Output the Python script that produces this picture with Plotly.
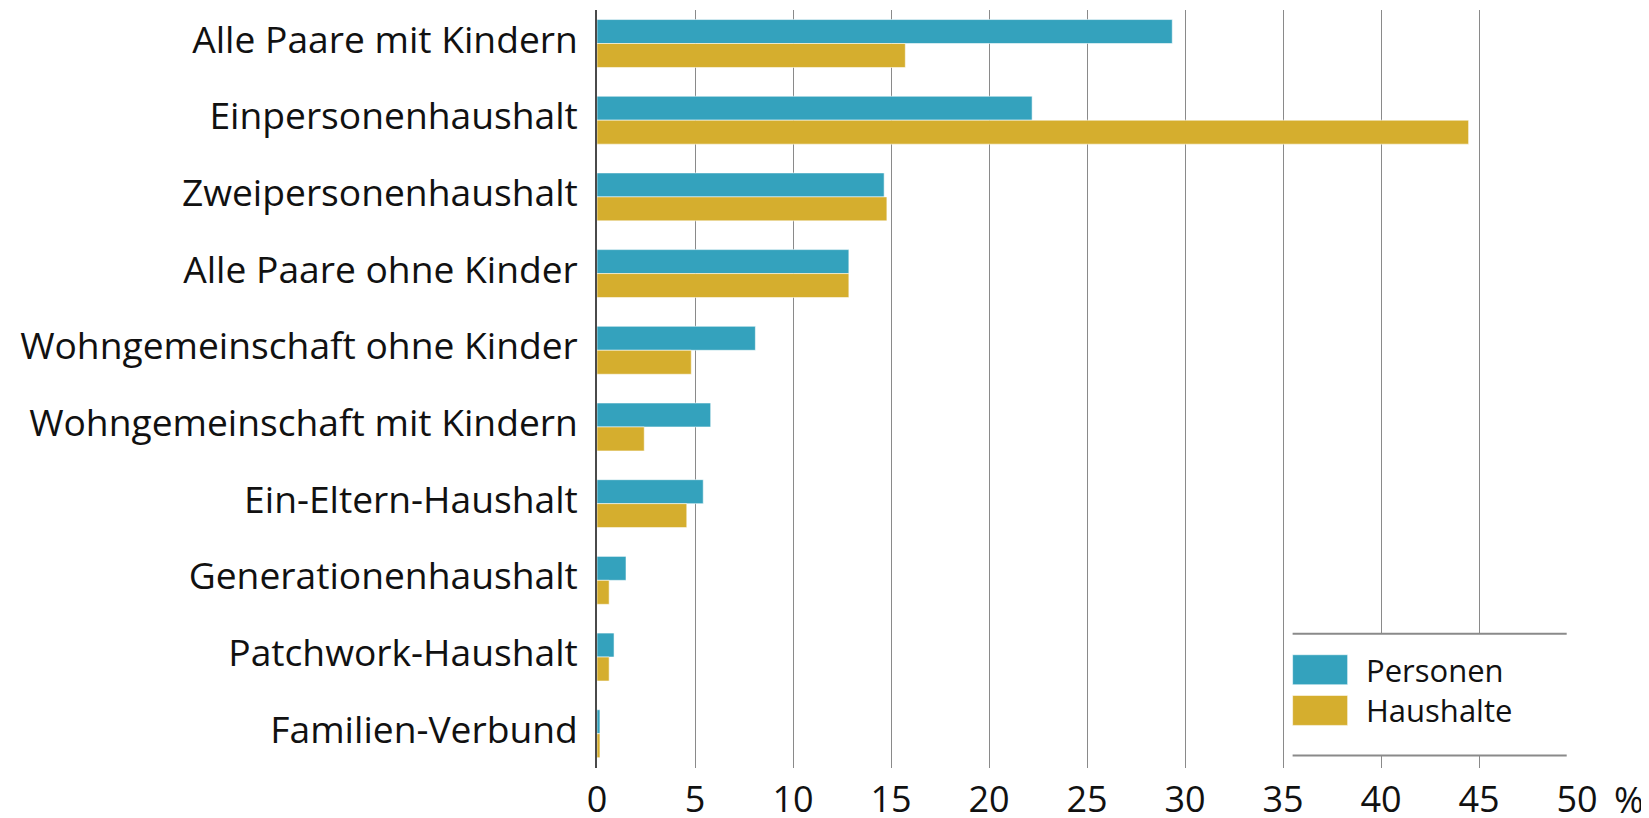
import plotly.graph_objects as go

categories = [
    "Alle Paare mit Kindern",
    "Einpersonenhaushalt",
    "Zweipersonenhaushalt",
    "Alle Paare ohne Kinder",
    "Wohngemeinschaft ohne Kinder",
    "Wohngemeinschaft mit Kindern",
    "Ein-Eltern-Haushalt",
    "Generationenhaushalt",
    "Patchwork-Haushalt",
    "Familien-Verbund",
]
personen = [29.35, 22.2, 14.65, 12.85, 8.08, 5.8, 5.42, 1.48, 0.87, 0.15]
haushalte = [15.73, 44.47, 14.79, 12.85, 4.81, 2.41, 4.58, 0.62, 0.62, 0.15]
x_ticks = [0, 5, 10, 15, 20, 25, 30, 35, 40, 45, 50]
series_names = ["Personen", "Haushalte"]
colors = ["#34A2BD", "#D5AE2E"]

FONT = "Open Sans"
W, H = 1649, 818
OFF = 8  # page body margin
L, R, T, B = 589.3, 80.0, 2.0, 57.7

fig = go.Figure()
for name, vals, col in zip(series_names, [personen, haushalte], colors):
    fig.add_trace(go.Bar(
        y=categories, x=vals, name=name, orientation="h",
        marker=dict(color=col, line=dict(color="rgba(255,255,255,0.55)", width=1)),
        showlegend=False,
    ))

fig.update_layout(
    template="none",
    width=W, height=H,
    margin=dict(l=L, r=R, t=T, b=B, pad=0, autoexpand=False),
    paper_bgcolor="white", plot_bgcolor="white",
    barmode="group", bargap=0.375, bargroupgap=0,
    font=dict(family=FONT, color="#111111"),
    showlegend=False,
)
fig.update_xaxes(
    range=[0, 50], tickvals=x_ticks, ticktext=[str(v) for v in x_ticks],
    showgrid=True, gridcolor="#8a8a8a", gridwidth=1,
    zeroline=False, showline=False, ticks="", automargin=False,
    tickfont=dict(size=36, family=FONT, color="#111111"),
    ticklabelstandoff=7, fixedrange=True,
)
fig.update_yaxes(
    categoryorder="array", categoryarray=categories, range=[9.447, -0.437],
    showgrid=False, zeroline=False, showline=True, linecolor="#4a4a4a", linewidth=1.5,
    ticks="", automargin=False, tickfont=dict(size=37.2, family=FONT, color="#111111"),
    ticklabelstandoff=10, ticklabelshift=4, fixedrange=True,
)

# "%" unit label after the last tick
fig.add_annotation(text="%", xref="paper", yref="paper", x=1.0531, y=0,
                   yshift=-31, xanchor="center", yanchor="middle", showarrow=False,
                   font=dict(size=36, family=FONT, color="#111111"))

# Manual legend (paper coords, from screen pixel positions)
pw, ph = W - L - R, H - T - B
def px(xs):
    return (xs - OFF - L) / pw
def py(ys):
    return (H - B - (ys - OFF)) / ph

lx0, lx1 = px(1292.7), px(1566.7)
ly_top, ly_bot = py(634), py(755.7)
fig.add_shape(type="rect", xref="paper", yref="paper", x0=lx0, x1=lx1, y0=ly_bot, y1=ly_top,
              fillcolor="white", line=dict(width=0), layer="above")
for yy in (ly_top, ly_bot):
    fig.add_shape(type="line", xref="paper", yref="paper", x0=lx0, x1=lx1, y0=yy, y1=yy,
                  line=dict(color="#8a8a8a", width=2), layer="above")
sw = [(655, 685), (695.7, 725.7)]
for (a, b), name, col in zip(sw, series_names, colors):
    fig.add_shape(type="rect", xref="paper", yref="paper", x0=px(1292.7), x1=px(1347.7),
                  y0=py(b), y1=py(a), fillcolor=col,
                  line=dict(color="rgba(255,255,255,0.55)", width=1), layer="above")
    fig.add_annotation(text=name, xref="paper", yref="paper", x=px(1364), y=py((a + b) / 2),
                       xanchor="left", yanchor="middle", showarrow=False,
                       font=dict(size=31, family=FONT, color="#111111"))

fig.write_html("out.html")
